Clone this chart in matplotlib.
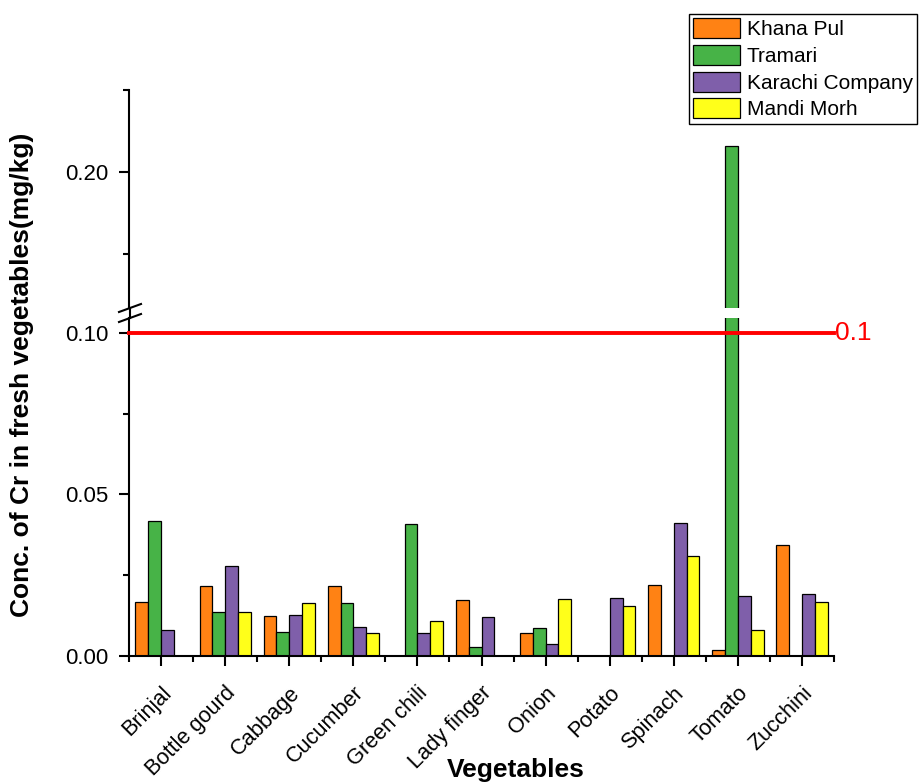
import matplotlib
matplotlib.use("Agg")
import matplotlib.pyplot as plt
from matplotlib.lines import Line2D
import numpy as np

plt.rcParams['font.family'] = ['Liberation Sans', 'DejaVu Sans']

# data (mg/kg)
vegetables = ['Brinjal', 'Bottle gourd', 'Cabbage', 'Cucumber', 'Green chili',
              'Lady finger', 'Onion', 'Potato', 'Spinach', 'Tomato', 'Zucchini']
khana_pul = [0.0168, 0.0217, 0.0124, 0.0216, 0.0, 0.0173, 0.0070, 0.0, 0.0220, 0.0020, 0.0345]
tramari = [0.0419, 0.0137, 0.0074, 0.0163, 0.0410, 0.0029, 0.0088, 0.0, 0.0, 0.2160, 0.0]
karachi_company = [0.0080, 0.0280, 0.0128, 0.0091, 0.0071, 0.0122, 0.0038, 0.0180, 0.0411, 0.0186, 0.0191]
mandi_morh = [0.0, 0.0136, 0.0163, 0.0072, 0.0107, 0.0, 0.0176, 0.0155, 0.0310, 0.0081, 0.0168]
series_names = ['Khana Pul', 'Tramari', 'Karachi Company', 'Mandi Morh']
limit = 0.1

colors = ['#FF8214', '#47B347', '#7F5FAA', '#FFFF1A']

W, H = 919, 782
fig = plt.figure(figsize=(W / 100, H / 100), dpi=100)

def frac(x0, y_top, x1, y_bot):
    return [x0 / W, 1 - y_bot / H, (x1 - x0) / W, (y_bot - y_top) / H]

ax_lo = fig.add_axes(frac(129, 318, 834, 656))
ax_hi = fig.add_axes(frac(129, 90, 834, 308))

x = np.arange(len(vegetables))
width = 0.2
all_series = [khana_pul, tramari, karachi_company, mandi_morh]

for ax in (ax_lo, ax_hi):
    for i, (vals, name) in enumerate(zip(all_series, series_names)):
        ax.bar(x + (i - 1.5) * width, vals, width, color=colors[i],
               edgecolor='black', linewidth=0.9, label=name, zorder=2)
    ax.set_xlim(-0.5, len(vegetables) - 0.5)
    for s in ['top', 'right']:
        ax.spines[s].set_visible(False)
    ax.spines['left'].set_linewidth(1.5)
    ax.spines['bottom'].set_linewidth(1.5)
    ax.tick_params(axis='y', which='major', direction='out', length=7.5, width=1.5,
                   labelsize=16, pad=7)
    ax.tick_params(axis='y', which='minor', direction='out', length=4, width=1.5)

# lower panel
ax_lo.set_ylim(0, 0.1046)
ax_lo.set_yticks([0.0, 0.05, 0.10])
ax_lo.set_yticklabels(['0.00', '0.05', '0.10'])
ax_lo.set_yticks([0.025, 0.075], minor=True)
ax_lo.set_xticks(x)
ax_lo.set_xticks(np.arange(-0.5, len(vegetables), 1.0), minor=True)
ax_lo.set_xticklabels(vegetables, rotation=45, ha='right', va='top',
                      rotation_mode='anchor', fontsize=15.7)
ax_lo.tick_params(axis='x', which='major', direction='out', length=7.5, width=1.5, pad=11.5)
ax_lo.tick_params(axis='x', which='minor', direction='out', length=4, width=1.5)
ax_lo.axhline(limit, color='#FF0000', linewidth=2.8, zorder=3, clip_on=False)
ax_lo.text(1.001, limit, '0.1', color='#FF0000', fontsize=19, va='center', ha='left',
           transform=ax_lo.get_yaxis_transform())

# upper panel
ax_hi.set_ylim(0.117, 0.25)
ax_hi.spines['bottom'].set_visible(False)
ax_hi.set_yticks([0.20])
ax_hi.set_yticklabels(['0.20'])
ax_hi.set_yticks([0.15, 0.25], minor=True)
ax_hi.set_xticks([])

# axis break
def px(xp, yp):
    return xp / W, 1 - yp / H

for (a, b) in [((119, 312), (141, 304)), ((119, 322), (141, 314))]:
    p0, p1 = px(*a), px(*b)
    fig.add_artist(Line2D([p0[0], p1[0]], [p0[1], p1[1]], color='black', linewidth=1.5,
                          transform=fig.transFigure))
p0, p1 = px(129.5, 308), px(129.5, 318)
fig.add_artist(Line2D([p0[0], p1[0]], [p0[1], p1[1]], color='black', linewidth=1.5,
                      transform=fig.transFigure))

fig.text(516 / W, 1 - 770 / H, 'Vegetables', fontsize=19, fontweight='bold',
         ha='center', va='center')
fig.text(22 / W, 1 - 375 / H, 'Conc. of Cr in fresh vegetables(mg/kg)', fontsize=19,
         fontweight='bold', rotation=90, ha='center', va='center')

handles, labels = ax_lo.get_legend_handles_labels()
fig.legend(handles, labels, loc='upper right', bbox_to_anchor=(917 / W, 1 - 14 / H),
           fontsize=15, frameon=True, fancybox=False, edgecolor='black',
           handlelength=2.25, handleheight=1.1, handletextpad=0.33, labelspacing=0.27,
           borderpad=0.2, borderaxespad=0, framealpha=1)
fig.legends[0].get_frame().set_linewidth(1.0)

fig.savefig('out.png', dpi=100)
